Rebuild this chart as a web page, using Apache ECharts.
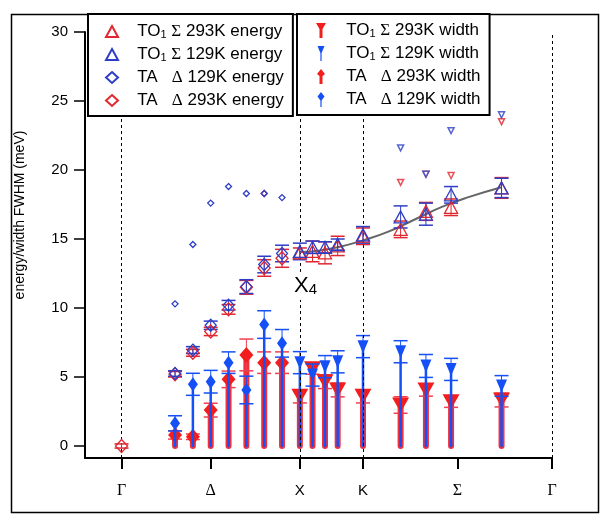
<!DOCTYPE html>
<html>
<head>
<meta charset="utf-8">
<script src="https://cdn.jsdelivr.net/npm/echarts@6/dist/echarts.min.js"></script>
<style>
html, body { margin: 0; padding: 0; background: #fff; }
#chart { width: 603px; height: 518px; }
</style>
</head>
<body>
<div id="chart"></div>
<script>
// ---- axis ticks ----
const tickPos = [0, 0.5, 1, 1.354, 1.884, 2.414];
const tickLabels = ['Γ', 'Δ', 'X', 'K', 'Σ', 'Γ'];
const yTicks = [0, 5, 10, 15, 20, 25, 30];
const dashPos = [0, 1, 1.354, 2.414];

// ---- TA branch (Γ-X) ----
const ta293EnX = [0, 0.3, 0.4, 0.5, 0.6, 0.7, 0.8, 0.9];
const ta293En = [0, 5.2, 6.75, 8.3, 9.9, 11.5, 12.9, 13.6];
const ta293EnErr = [0.15, 0.2, 0.25, 0.3, 0.35, 0.5, 0.6, 0.65];

const taX = [0.3, 0.4, 0.5, 0.6, 0.7, 0.8, 0.9];
const ta129En = [5.25, 6.95, 8.75, 10.2, 11.55, 13.15, 13.95];
const ta129EnErr = [0.2, 0.25, 0.3, 0.35, 0.5, 0.6, 0.6];

const ta129UpperEn = [10.3, 14.6, 17.6, 18.8, 18.3, 18.3, 18.0];
const ta293UpperX = [0.8];
const ta293UpperEn = [18.3];

const ta293Wd = [0.8, 0.67, 2.6, 4.83, 6.6, 6.04, 6.04];
const ta293WdErr = [0.3, 0.2, 0.5, 0.6, 1.15, 0.78, 0.78];
const ta129Wd = [1.64, 4.47, 4.66, 6.04, 4.06, 8.8, 7.44];
const ta129WdErr = [0.55, 0.8, 0.82, 0.78, 1.0, 1.0, 1.0];

// ---- TO1 branch (X-K-Γ) ----
const toX = [1.0, 1.071, 1.141, 1.212, 1.354, 1.565, 1.707, 1.848, 2.131];
const to293En = [14.0, 14.1, 14.0, 14.5, 15.2, 15.7, 17.0, 17.3, 18.7];
const to293EnErr = [0.35, 0.75, 0.8, 0.7, 0.6, 0.6, 0.65, 0.6, 0.75];
const to129En = [14.1, 14.4, 14.4, 14.6, 15.3, 16.6, 16.8, 18.2, 18.7];
const to129EnErr = [0.6, 0.45, 0.4, 0.4, 0.6, 0.8, 0.8, 0.6, 0.7];

const to293Wd = [3.6, 5.6, 4.66, 4.06, 3.6, 2.97, 4.06, 3.2, 3.33];
const to293WdErr = [0.48, 0.4, 0.5, 0.5, 0.48, 0.6, 0.45, 0.4, 0.5];
const to129Wd = [6.04, 5.14, 5.75, 6.1, 7.2, 6.83, 5.8, 5.55, 4.35];
const to129WdErr = [0.8, 0.8, 0.8, 0.8, 0.8, 0.8, 0.83, 0.8, 0.75];

const upperX = [1.565, 1.707, 1.848, 2.131];
const upper293 = [19.1, 19.7, 19.6, 23.5];
const upper129 = [21.6, 19.7, 22.85, 24.0];

// gray guide curve
const fitX = [1.0, 1.1, 1.212, 1.354, 1.5, 1.65, 1.8, 1.95, 2.131];
const fitY = [14.05, 14.15, 14.4, 14.9, 15.55, 16.45, 17.35, 18.05, 18.75];

const RED_E = '#e0262e', BLUE_E = '#2d3ec6';
const RED_W = '#f21d1d', BLUE_W = '#1450f5';
const FONT = 'Liberation Sans';
const Y_MIN = -0.87;

const pts = (xs, ys) => xs.map((x, i) => [x, ys[i]]);
const errPts = (xs, ys, es) => xs.map((x, i) => [x, ys[i], es[i]]);

// error bars (and optional stem from 0)
function errBar(color, capW, lw, stemColor, stemW) {
  return function (params, api) {
    const x = api.value(0), y = api.value(1), e = api.value(2);
    const top = api.coord([x, y + e]);
    const bot = api.coord([x, y - e]);
    const children = [];
    if (stemW) {
      const base = api.coord([x, 0]);
      const p = api.coord([x, y]);
      children.push({ type: 'line', shape: { x1: base[0], y1: base[1], x2: p[0], y2: p[1] },
        style: { stroke: stemColor, lineWidth: stemW, lineCap: 'round' } });
    }
    children.push({ type: 'line', shape: { x1: top[0], y1: top[1], x2: bot[0], y2: bot[1] },
      style: { stroke: color, lineWidth: 1 } });
    children.push({ type: 'line', shape: { x1: top[0] - capW, y1: top[1], x2: top[0] + capW, y2: top[1] },
      style: { stroke: color, lineWidth: lw } });
    children.push({ type: 'line', shape: { x1: bot[0] - capW, y1: bot[1], x2: bot[0] + capW, y2: bot[1] },
      style: { stroke: color, lineWidth: lw } });
    return { type: 'group', children };
  };
}

function errSeries(name, data, render, z) {
  return { name, type: 'custom', data, renderItem: render, encode: { x: 0, y: 1 }, z, silent: true };
}

function hollow(name, data, symbol, size, color, z) {
  return { name, type: 'scatter', data, symbol, symbolSize: size, z,
    itemStyle: { color: 'rgba(255,255,255,0)', borderColor: color, borderWidth: 1.3, opacity: 1 } };
}

function filled(name, data, symbol, size, color, rotate, z) {
  return { name, type: 'scatter', data, symbol, symbolSize: size, symbolRotate: rotate, z,
    itemStyle: { color, opacity: 1 } };
}

const N1 = 'TO1 Σ 293K energy', N2 = 'TO1 Σ 129K energy',
  N3 = 'TA   Δ 129K energy', N4 = 'TA   Δ 293K energy';
const W1 = 'TO1 Σ 293K width', W2 = 'TO1 Σ 129K width',
  W3 = 'TA   Δ 293K width', W4 = 'TA   Δ 129K width';

// legend icons (padded so all share one box)
const pad = ' M0 0 L0 0 M12 15 L12 15';
const iconTO293 = 'path://M1 0 L11 0 L7.5 6 L7.5 15 L4.5 15 L4.5 6 Z' + pad;
const iconTO129 = 'path://M2.5 0 L9.5 0 L6.6 7 L6.6 15 L5.4 15 L5.4 7 Z' + pad;
const iconTA293 = 'path://M6 0 L10 5 L7.5 7 L7.5 15 L4.5 15 L4.5 7 L2 5 Z' + pad;
const iconTA129 = 'path://M6 0 L9.5 4.5 L6.6 8.5 L6.6 15 L5.4 15 L5.4 8.5 L2.5 4.5 Z' + pad;

// leading spaces stand in for the gap between icon and text
const fmtName = n => '   ' + n.replace('TO1', 'TO{s|1}').replace('Σ', '{g|Σ}').replace('Δ', '{g|Δ}');
const legendText = {
  color: '#000', fontSize: 17, fontFamily: FONT, lineHeight: 17,
  rich: {
    s: { fontSize: 11, fontFamily: FONT, lineHeight: 8, verticalAlign: 'bottom' },
    g: { fontSize: 17, fontFamily: 'Liberation Serif' }
  }
};

const chart = echarts.init(document.getElementById('chart'), null, { renderer: 'canvas' });

const option = {
  backgroundColor: '#fff',
  animation: false,
  textStyle: { fontFamily: FONT },
  graphic: [{
    type: 'rect', left: 9, top: 12, z: -10,
    shape: { width: 587, height: 498 },
    style: { fill: 'none', stroke: '#000', lineWidth: 1.5 }
  }, {
    type: 'text', x: 20, y: 215, rotation: Math.PI / 2,
    style: { text: 'energy/width FWHM (meV)', fill: '#000', font: '14px "Liberation Sans"',
      align: 'center', verticalAlign: 'middle' }
  }],
  grid: { left: 85, right: 51, top: 32, bottom: 60, containLabel: false },
  legend: [{
    data: [N1, N2, N3, N4].map(n => ({ name: n, icon: n.indexOf('TO1') === 0 ? 'triangle' : 'diamond' })),
    orient: 'vertical', left: 88, top: 14,
    itemWidth: 12, itemHeight: 11, itemGap: 6,
    padding: [9, 9, 7, 17],
    backgroundColor: '#fff', borderColor: '#000', borderWidth: 2,
    formatter: fmtName, textStyle: legendText, z: 20
  }, {
    data: [
      { name: W1, icon: iconTO293 },
      { name: W2, icon: iconTO129 },
      { name: W3, icon: iconTA293 },
      { name: W4, icon: iconTA129 }
    ],
    orient: 'vertical', left: 297, top: 14,
    itemWidth: 12, itemHeight: 15, itemGap: 6,
    padding: [8, 9, 7, 18],
    backgroundColor: '#fff', borderColor: '#000', borderWidth: 2,
    formatter: fmtName, textStyle: legendText, z: 20
  }],
  xAxis: {
    type: 'value', min: -0.205, max: 2.414,
    axisLine: { onZero: false, lineStyle: { color: '#000', width: 2 } },
    axisTick: { customValues: tickPos, length: 11, lineStyle: { color: '#000', width: 2 } },
    axisLabel: {
      customValues: tickPos, margin: 25, color: '#000', fontSize: 15, fontFamily: FONT,
      formatter: v => {
        const i = tickPos.findIndex(t => Math.abs(t - v) < 1e-6);
        const s = i < 0 ? '' : tickLabels[i];
        return (s === 'X' || s === 'K') ? s : '{g|' + s + '}';
      },
      rich: { g: { fontFamily: 'Liberation Serif', fontSize: 16, color: '#000' } }
    },
    splitLine: { show: false }
  },
  yAxis: {
    type: 'value', min: Y_MIN, max: 30,
    axisLine: { onZero: false, lineStyle: { color: '#000', width: 2 } },
    axisTick: { customValues: yTicks, length: 11, lineStyle: { color: '#000', width: 1.5 } },
    axisLabel: { customValues: yTicks, margin: 17, color: '#000', fontSize: 15, fontFamily: FONT },
    splitLine: { show: false }
  },
  series: [
    // dashed symmetry-point lines
    {
      name: 'guides', type: 'line', data: [], z: 1, silent: true,
      markLine: {
        silent: true, symbol: 'none', label: { show: false },
        lineStyle: { color: '#000', width: 1, type: [3, 3] },
        data: dashPos.map(x => [{ coord: [x, Y_MIN] }, { coord: [x, 30] }])
      }
    },
    // widths: red stems first, then blue on top
    errSeries('e' + W1, errPts(toX, to293Wd, to293WdErr), errBar('#f04050', 7, 1.5, '#f0303c', 6), 2),
    errSeries('e' + W3, errPts(taX, ta293Wd, ta293WdErr), errBar('#f04050', 7, 1.5, '#f0303c', 6), 2),
    filled(W1, pts(toX, to293Wd), 'triangle', [17, 15], RED_W, 180, 3),
    filled(W3, pts(taX, ta293Wd), 'diamond', [14, 16], RED_W, 0, 3),
    errSeries('e' + W2, errPts(toX, to129Wd, to129WdErr), errBar(BLUE_W, 7, 1.5, BLUE_W, 2.5), 4),
    errSeries('e' + W4, errPts(taX, ta129Wd, ta129WdErr), errBar(BLUE_W, 7, 1.5, BLUE_W, 2.5), 4),
    filled(W2, pts(toX, to129Wd), 'triangle', [11, 13], BLUE_W, 180, 5),
    filled(W4, pts(taX, ta129Wd), 'diamond', [10, 14], BLUE_W, 0, 5),

    // gray guide curve and the X4 label
    {
      name: 'fit', type: 'line', data: pts(fitX, fitY), smooth: true, showSymbol: false, z: 6,
      lineStyle: { color: '#666', width: 2 }, silent: true,
      markPoint: {
        silent: true, symbol: 'rect', symbolSize: 1, itemStyle: { color: 'rgba(0,0,0,0)' },
        data: [{ coord: [1.032, 11.6] }],
        label: {
          show: true, position: 'inside', formatter: 'X{s|4}', color: '#000',
          fontSize: 22, fontFamily: FONT, backgroundColor: '#fff', padding: [3, 1, 3, 1],
          rich: { s: { fontSize: 15, fontFamily: FONT, color: '#000', verticalAlign: 'bottom', lineHeight: 12 } }
        }
      }
    },

    // energies
    errSeries('e' + N4, errPts(ta293EnX, ta293En, ta293EnErr), errBar(RED_E, 7, 1.5), 7),
    errSeries('e' + N3, errPts(taX, ta129En, ta129EnErr), errBar(BLUE_E, 7, 1.5), 7),
    errSeries('e' + N1, errPts(toX, to293En, to293EnErr), errBar(RED_E, 7, 1.5), 7),
    errSeries('e' + N2, errPts(toX, to129En, to129EnErr), errBar(BLUE_E, 7, 1.5), 7),
    hollow(N4, pts(ta293EnX, ta293En), 'diamond', [12, 13], RED_E, 8),
    hollow(N3, pts(taX, ta129En), 'diamond', [11, 12], BLUE_E, 8),
    hollow(N1, pts(toX, to293En), 'triangle', [13, 12], RED_E, 8),
    hollow(N2, pts(toX, to129En), 'triangle', [13, 12], BLUE_E, 8),

    // small upper-branch markers
    hollow('TA 293K upper', pts(ta293UpperX, ta293UpperEn), 'diamond', 6, RED_E, 8),
    hollow('TA 129K upper', pts(taX, ta129UpperEn), 'diamond', 6, BLUE_E, 9),
    { name: 'TO 293K upper', type: 'scatter', data: pts(upperX, upper293), symbol: 'triangle',
      symbolSize: 6, symbolRotate: 180, z: 8,
      itemStyle: { color: '#fff', borderColor: RED_E, borderWidth: 1.5 } },
    { name: 'TO 129K upper', type: 'scatter', data: pts(upperX, upper129), symbol: 'triangle',
      symbolSize: 6, symbolRotate: 180, z: 9,
      itemStyle: { color: '#fff', borderColor: BLUE_E, borderWidth: 1.5 } }
  ]
};

chart.setOption(option);
window.addEventListener('resize', () => chart.resize());
</script>
</body>
</html>
